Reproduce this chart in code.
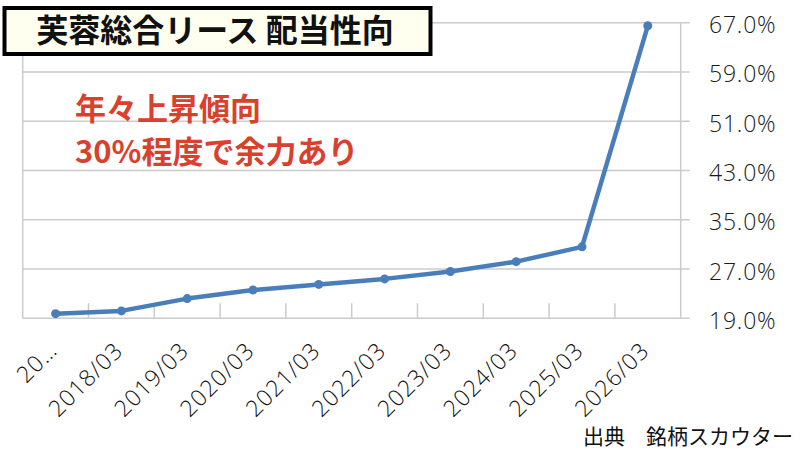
<!DOCTYPE html>
<html>
<head>
<meta charset="utf-8">
<script src="https://cdn.jsdelivr.net/npm/d3@7"></script>
<style>
  body { margin: 0; background: #fff; }
  svg { display: block; }
</style>
</head>
<body>
<svg id="chart"></svg>
<script>
const categories = ["2017/03", "2018/03", "2019/03", "2020/03", "2021/03", "2022/03", "2023/03", "2024/03", "2025/03", "2026/03"];
const tickLabels = ["20…", "2018/03", "2019/03", "2020/03", "2021/03", "2022/03", "2023/03", "2024/03", "2025/03", "2026/03"];
const payoutRatio = [19.75, 20.2, 22.2, 23.6, 24.5, 25.4, 26.6, 28.2, 30.6, 66.5];
const yTicks = [19, 27, 35, 43, 51, 59, 67];

const size = { width: 800, height: 450 };
const margin = { top: 22.7, right: 120, bottom: 131.7, left: 22.7 };
const jp = "'Noto Sans CJK JP', 'Noto Sans', sans-serif";
const num = "'Open Sans', 'DejaVu Sans', sans-serif";

const svg = d3
  .select("#chart")
  .attr("width", size.width)
  .attr("height", size.height);

const x = d3
  .scaleBand()
  .domain(categories)
  .range([margin.left, size.width - margin.right + 0.7]);

const y = d3
  .scaleLinear()
  .domain([19, 67])
  .range([size.height - margin.bottom, margin.top]);

const x0 = x.range()[0];
const x1 = x.range()[1];
const yBase = y(19);

// gridlines
svg
  .append("g")
  .selectAll("line")
  .data(yTicks)
  .enter()
  .append("line")
  .attr("x1", x0)
  .attr("x2", x1 + 9)
  .attr("y1", (d) => y(d))
  .attr("y2", (d) => y(d))
  .attr("stroke", "#cbcbcb")
  .attr("stroke-width", 1.5);

// side borders
[x0, x1].forEach((xv) => {
  svg
    .append("line")
    .attr("x1", xv)
    .attr("x2", xv)
    .attr("y1", y(67))
    .attr("y2", yBase)
    .attr("stroke", "#cbcbcb")
    .attr("stroke-width", 1.5);
});

// category tick marks
svg
  .append("g")
  .selectAll("line")
  .data(categories.slice(1))
  .enter()
  .append("line")
  .attr("x1", (d) => x(d))
  .attr("x2", (d) => x(d))
  .attr("y1", yBase - 15)
  .attr("y2", yBase)
  .attr("stroke", "#cbcbcb")
  .attr("stroke-width", 1.5);

// right axis labels
svg
  .append("g")
  .selectAll("text")
  .data(yTicks)
  .enter()
  .append("text")
  .attr("x", 709)
  .attr("y", (d) => y(d) + 10.5)
  .attr("font-family", num)
  .attr("font-weight", 300)
  .attr("font-size", 23)
  .attr("letter-spacing", 0.8)
  .attr("fill", "#1a1a1a")
  .text((d) => d.toFixed(1) + "%");

// x labels
svg
  .append("g")
  .selectAll("text")
  .data(categories)
  .enter()
  .append("text")
  .attr("transform", (d) => `translate(${x(d) + x.bandwidth() / 2 + 3}, 352) rotate(-45)`)
  .attr("text-anchor", "end")
  .attr("font-family", num)
  .attr("font-weight", 300)
  .attr("font-size", 23)
  .attr("letter-spacing", 1)
  .attr("fill", "#111")
  .text((d, i) => tickLabels[i]);

// line
const line = d3
  .line()
  .x((d, i) => x(categories[i]) + x.bandwidth() / 2)
  .y((d) => y(d));

svg
  .append("path")
  .datum(payoutRatio)
  .attr("d", line)
  .attr("fill", "none")
  .attr("stroke", "#4a7ebb")
  .attr("stroke-width", 4.5)
  .attr("stroke-linejoin", "round");

svg
  .append("g")
  .selectAll("circle")
  .data(payoutRatio)
  .enter()
  .append("circle")
  .attr("cx", (d, i) => x(categories[i]) + x.bandwidth() / 2)
  .attr("cy", (d) => y(d))
  .attr("r", 4.5)
  .attr("fill", "#4a7ebb");

// title box
svg
  .append("rect")
  .attr("x", 4.5)
  .attr("y", 8)
  .attr("width", 426)
  .attr("height", 46)
  .attr("fill", "#fffff0")
  .attr("stroke", "#000")
  .attr("stroke-width", 4);

svg
  .append("text")
  .attr("x", 215)
  .attr("y", 41.5)
  .attr("text-anchor", "middle")
  .attr("font-family", jp)
  .attr("font-weight", "bold")
  .attr("font-size", 32)
  .attr("fill", "#111")
  .text("芙蓉総合リース 配当性向");

// annotation
const notes = ["年々上昇傾向", "30%程度で余力あり"];
svg
  .append("g")
  .selectAll("text")
  .data(notes)
  .enter()
  .append("text")
  .attr("x", 75)
  .attr("y", (d, i) => 120 + i * 43)
  .attr("font-family", jp)
  .attr("font-weight", "bold")
  .attr("font-size", 31)
  .attr("fill", "#d9412e")
  .text((d) => d);

// source
svg
  .append("text")
  .attr("x", 583)
  .attr("y", 444)
  .attr("font-family", jp)
  .attr("font-size", 21)
  .attr("fill", "#111")
  .text("出典　銘柄スカウター");
</script>
</body>
</html>
